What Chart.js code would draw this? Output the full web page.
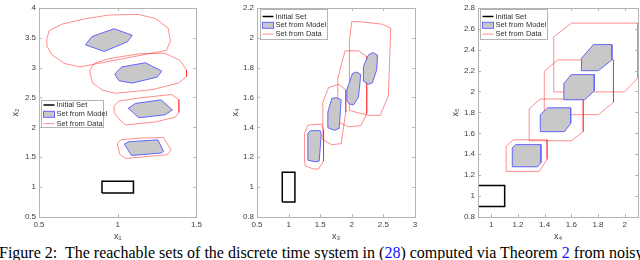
<!DOCTYPE html>
<html>
<head>
<meta charset="utf-8">
<script src="https://cdn.jsdelivr.net/npm/chart.js@4.4.1/dist/chart.umd.min.js"></script>
<style>
  body { margin: 0; width: 640px; height: 260px; overflow: hidden; background: #fff; position: relative; }
  canvas { position: absolute; top: 0; }
  #cap { position: absolute; left: -1px; top: 245px; font: 16px/16px "Liberation Serif", "Times New Roman", serif; white-space: nowrap; color: #000; }
  #cap span { color: #1010ff; }
</style>
</head>
<body>
<canvas id="c1" width="205" height="242" style="left:0px"></canvas>
<canvas id="c2" width="205" height="242" style="left:218px"></canvas>
<canvas id="c3" width="200" height="242" style="left:440px"></canvas>
<div id="cap">Figure 2:&nbsp; The reachable sets of the discrete time system in (<span>28</span>) computed via Theorem <span>2</span> from noisy</div>
<script>
// legend text
var legendLabels = ["Initial Set", "Set from Model", "Set from Data"];

// panel 1: x1 vs x2
var xTicks1 = [0.5, 1, 1.5];
var yTicks1 = [0.5, 1, 1.5, 2, 2.5, 3, 3.5, 4];
var init1 = [[0.9, 0.9], [1.1, 0.9], [1.1, 1.1], [0.9, 1.1]];
var model1 = [
  [[0.795, 3.38], [0.837, 3.52], [0.977, 3.65], [1.092, 3.54], [1.061, 3.43], [0.914, 3.27]],
  [[0.981, 2.89], [1.025, 3.01], [1.176, 3.08], [1.28, 2.94], [1.249, 2.84], [1.092, 2.74], [1.008, 2.78]],
  [[1.067, 2.32], [1.113, 2.40], [1.276, 2.46], [1.347, 2.29], [1.301, 2.21], [1.134, 2.16]],
  [[1.042, 1.72], [1.071, 1.76], [1.255, 1.79], [1.291, 1.60], [1.276, 1.57], [1.088, 1.53]]
];
var data1 = [
  [[0.55, 3.48], [0.565, 3.62], [0.65, 3.73], [0.80, 3.82], [0.95, 3.88], [1.13, 3.89], [1.24, 3.82], [1.32, 3.66], [1.335, 3.45], [1.31, 3.29], [0.76, 3.01], [0.66, 3.07], [0.58, 3.22], [0.55, 3.36]],
  [[0.824, 2.96], [0.851, 3.07], [0.946, 3.15], [1.134, 3.23], [1.301, 3.24], [1.395, 3.12], [1.437, 2.96], [1.437, 2.85], [1.385, 2.74], [1.218, 2.63], [0.987, 2.57], [0.904, 2.62], [0.841, 2.74], [0.824, 2.91]],
  [[0.977, 2.36], [1.008, 2.44], [1.134, 2.49], [1.343, 2.55], [1.385, 2.47], [1.389, 2.25], [1.364, 2.17], [1.238, 2.09], [1.05, 2.04], [1.008, 2.14], [0.977, 2.25]],
  [[0.998, 1.73], [1.019, 1.79], [1.134, 1.82], [1.291, 1.83], [1.339, 1.62], [1.312, 1.54], [1.05, 1.48], [1.013, 1.55]]
];

// panel 2: x3 vs x4
var xTicks2 = [0.5, 1, 1.5, 2, 2.5, 3];
var yTicks2 = [0.8, 1, 1.2, 1.4, 1.6, 1.8, 2, 2.2];
var init2 = [[0.9, 0.9], [1.1, 0.9], [1.1, 1.1], [0.9, 1.1]];
var model2 = [
  [[1.305, 1.36], [1.342, 1.378], [1.5, 1.378], [1.516, 1.35], [1.484, 1.175], [1.432, 1.169], [1.305, 1.18]],
  [[1.621, 1.502], [1.684, 1.594], [1.763, 1.598], [1.832, 1.585], [1.8, 1.393], [1.726, 1.38], [1.621, 1.398]],
  [[1.921, 1.651], [2.011, 1.76], [2.079, 1.77], [2.142, 1.753], [2.105, 1.60], [2.026, 1.55], [1.958, 1.557], [1.921, 1.58]],
  [[2.184, 1.808], [2.263, 1.884], [2.332, 1.901], [2.405, 1.884], [2.395, 1.786], [2.326, 1.698], [2.263, 1.688], [2.184, 1.709]]
];
var data2 = [
  [[1.253, 1.36], [1.305, 1.415], [1.526, 1.422], [1.553, 1.382], [1.553, 1.175], [1.474, 1.121], [1.395, 1.121], [1.263, 1.142], [1.247, 1.197]],
  [[1.542, 1.568], [1.632, 1.666], [1.789, 1.688], [1.905, 1.651], [1.905, 1.502], [1.832, 1.291], [1.684, 1.284], [1.537, 1.317]],
  [[1.779, 1.725], [1.832, 1.818], [1.895, 1.912], [2.105, 1.912], [2.237, 1.873], [2.237, 1.491], [2.142, 1.411], [1.947, 1.404], [1.779, 1.437]],
  [[1.963, 1.982], [2.0, 2.108], [2.105, 2.108], [2.474, 2.091], [2.616, 2.065], [2.579, 1.611], [2.447, 1.48], [2.263, 1.48], [1.963, 1.513]]
];

// panel 3: x4 vs x5
var xTicks3 = [1, 1.2, 1.4, 1.6, 1.8, 2];
var yTicks3 = [0.8, 1, 1.2, 1.4, 1.6, 1.8, 2, 2.2, 2.4, 2.6, 2.8];
var init3 = [[0.9, 0.9], [1.1, 0.9], [1.1, 1.1], [0.9, 1.1]];
var model3 = [
  [[1.157, 1.46], [1.182, 1.492], [1.372, 1.492], [1.372, 1.32], [1.347, 1.28], [1.157, 1.28]],
  [[1.367, 1.778], [1.423, 1.844], [1.595, 1.844], [1.595, 1.694], [1.549, 1.616], [1.367, 1.616]],
  [[1.544, 2.077], [1.6, 2.161], [1.772, 2.161], [1.772, 2.006], [1.701, 1.921], [1.544, 1.921]],
  [[1.676, 2.317], [1.765, 2.448], [1.904, 2.448], [1.904, 2.302], [1.803, 2.199], [1.676, 2.199]]
];
var data3 = [
  [[1.111, 1.476], [1.165, 1.538], [1.418, 1.538], [1.418, 1.351], [1.359, 1.236], [1.111, 1.236]],
  [[1.284, 1.834], [1.367, 1.928], [1.689, 1.928], [1.689, 1.616], [1.6, 1.529], [1.284, 1.529]],
  [[1.397, 2.193], [1.499, 2.302], [1.916, 2.302], [1.916, 1.897], [1.803, 1.778], [1.397, 1.778]],
  [[1.468, 2.52], [1.6, 2.654], [2.1, 2.654], [2.1, 2.13], [2.0, 1.996], [1.468, 1.996]]
];

var tickFont = { family: '"Liberation Sans", Arial, sans-serif', size: 8 };
var boxColor = "#b4b4b4";
var textColor = "#404040";
var modelFill = "#c8c8c8";
var modelEdge = "#6464ff";
var dataEdge = "rgba(255,0,0,0.45)";

function closed(poly) {
  var pts = poly.map(function(p) { return { x: p[0], y: p[1] }; });
  if (poly.length > 2) pts.push({ x: poly[0][0], y: poly[0][1] });
  return pts;
}

// matlab style box with inward ticks
var matlabAxes = {
  id: "matlabAxes",
  afterDatasetsDraw: function(chart) {
    var ctx = chart.ctx, a = chart.chartArea;
    ctx.save();
    ctx.strokeStyle = boxColor;
    ctx.lineWidth = 1;
    ctx.beginPath();
    chart.scales.x.ticks.forEach(function(t) {
      var px = Math.round(chart.scales.x.getPixelForValue(t.value)) + 0.5;
      ctx.moveTo(px, a.bottom); ctx.lineTo(px, a.bottom - 3);
      ctx.moveTo(px, a.top); ctx.lineTo(px, a.top + 3);
    });
    chart.scales.y.ticks.forEach(function(t) {
      var py = Math.round(chart.scales.y.getPixelForValue(t.value)) + 0.5;
      ctx.moveTo(a.left, py); ctx.lineTo(a.left + 3, py);
      ctx.moveTo(a.right, py); ctx.lineTo(a.right - 3, py);
    });
    ctx.stroke();
    ctx.strokeRect(Math.round(a.left) + 0.5, Math.round(a.top) + 0.5, Math.round(a.right - a.left), Math.round(a.bottom - a.top));
    ctx.restore();
  }
};

var boxLegend = {
  id: "boxLegend",
  afterDraw: function(chart, args, o) {
    var ctx = chart.ctx, a = chart.chartArea;
    var x = Math.round(a.left + o.dx) + 0.5, y = Math.round(a.top + o.dy) + 0.5;
    ctx.save();
    ctx.fillStyle = "#fff";
    ctx.fillRect(x, y, o.w, o.h);
    ctx.strokeStyle = boxColor;
    ctx.lineWidth = 1;
    ctx.strokeRect(x, y, o.w, o.h);
    ctx.font = '7.5px "Liberation Sans", Arial, sans-serif';
    ctx.textBaseline = "middle";
    legendLabels.forEach(function(lab, i) {
      var ry = y + o.first + i * o.row;
      if (i == 0) {
        ctx.strokeStyle = "#000"; ctx.lineWidth = 1.5;
        ctx.beginPath(); ctx.moveTo(x + 2, ry); ctx.lineTo(x + 13, ry); ctx.stroke();
      } else if (i == 1) {
        ctx.fillStyle = modelFill; ctx.fillRect(x + 2, ry - 3, 11, 6);
        ctx.strokeStyle = modelEdge; ctx.lineWidth = 1;
        ctx.strokeRect(x + 2, ry - 3, 11, 6);
      } else {
        ctx.strokeStyle = dataEdge; ctx.lineWidth = 1;
        ctx.beginPath(); ctx.moveTo(x + 2, ry); ctx.lineTo(x + 13, ry); ctx.stroke();
      }
      ctx.fillStyle = "#303030";
      ctx.fillText(lab, x + 15, ry);
    });
    ctx.restore();
  }
};

function makePanel(id, p) {
  var sets = [];
  sets.push({ data: closed(p.init), borderColor: "#000", borderWidth: 1.5, fill: false });
  p.model.forEach(function(poly) {
    sets.push({ data: closed(poly), borderColor: modelEdge, borderWidth: 1, backgroundColor: modelFill, fill: "shape" });
  });
  p.data.forEach(function(poly) {
    sets.push({ data: closed(poly), borderColor: dataEdge, borderWidth: 1, fill: false });
  });
  sets.forEach(function(s) { s.showLine = true; s.pointRadius = 0; s.tension = 0; });

  return new Chart(document.getElementById(id), {
    type: "scatter",
    data: { datasets: sets },
    plugins: [matlabAxes, boxLegend],
    options: {
      responsive: false,
      animation: false,
      devicePixelRatio: 1,
      indexAxis: "y",
      events: [],
      layout: { padding: { top: 3, right: p.rightPad, left: 0, bottom: 0 } },
      plugins: {
        legend: { display: false },
        tooltip: { enabled: false },
        boxLegend: p.legend
      },
      scales: {
        x: {
          type: "linear", min: p.xMin, max: p.xMax,
          grid: { display: false, drawTicks: false }, border: { display: false },
          afterBuildTicks: function(s) { s.ticks = p.xTicks.map(function(v) { return { value: v }; }); },
          afterFit: function(s) { s.height = 25; },
          ticks: { font: tickFont, color: textColor, padding: 3, maxRotation: 0, autoSkip: false, callback: function(v) { return v; } },
          title: { display: true, text: p.xTitle, font: { family: tickFont.family, size: 9 }, color: textColor, padding: 0 }
        },
        y: {
          type: "linear", min: p.yMin, max: p.yMax,
          grid: { display: false, drawTicks: false }, border: { display: false },
          afterBuildTicks: function(s) { s.ticks = p.yTicks.map(function(v) { return { value: v }; }); },
          afterFit: function(s) { s.width = p.yWidth; },
          ticks: { font: tickFont, color: textColor, padding: 3, autoSkip: false, callback: function(v) { return v; } },
          title: { display: true, text: p.yTitle, font: { family: tickFont.family, size: 9 }, color: textColor, padding: { top: p.titlePad, bottom: 0 } }
        }
      }
    }
  });
}

makePanel("c1", { init: init1, model: model1, data: data1, xTicks: xTicks1, yTicks: yTicks1,
  xMin: 0.5, xMax: 1.5, yMin: 0.5, yMax: 4, xTitle: "x\u2081", yTitle: "x\u2082",
  yWidth: 39, rightPad: 6, titlePad: 10,
  legend: { dx: 2, dy: 92, w: 62, h: 27, first: 4.5, row: 9.3 } });

makePanel("c2", { init: init2, model: model2, data: data2, xTicks: xTicks2, yTicks: yTicks2,
  xMin: 0.5, xMax: 3, yMin: 0.8, yMax: 2.2, xTitle: "x\u2083", yTitle: "x\u2084",
  yWidth: 39, rightPad: 8, titlePad: 12,
  legend: { dx: 3, dy: 1, w: 67, h: 30, first: 7, row: 8.8 } });

makePanel("c3", { init: init3, model: model3, data: data3, xTicks: xTicks3, yTicks: yTicks3,
  xMin: 0.9, xMax: 2.1, yMin: 0.8, yMax: 2.8, xTitle: "x\u2084", yTitle: "x\u2085",
  yWidth: 38, rightPad: 2, titlePad: 10,
  legend: { dx: 2, dy: 1, w: 67, h: 30, first: 7, row: 8.8 } });
</script>
</body>
</html>
